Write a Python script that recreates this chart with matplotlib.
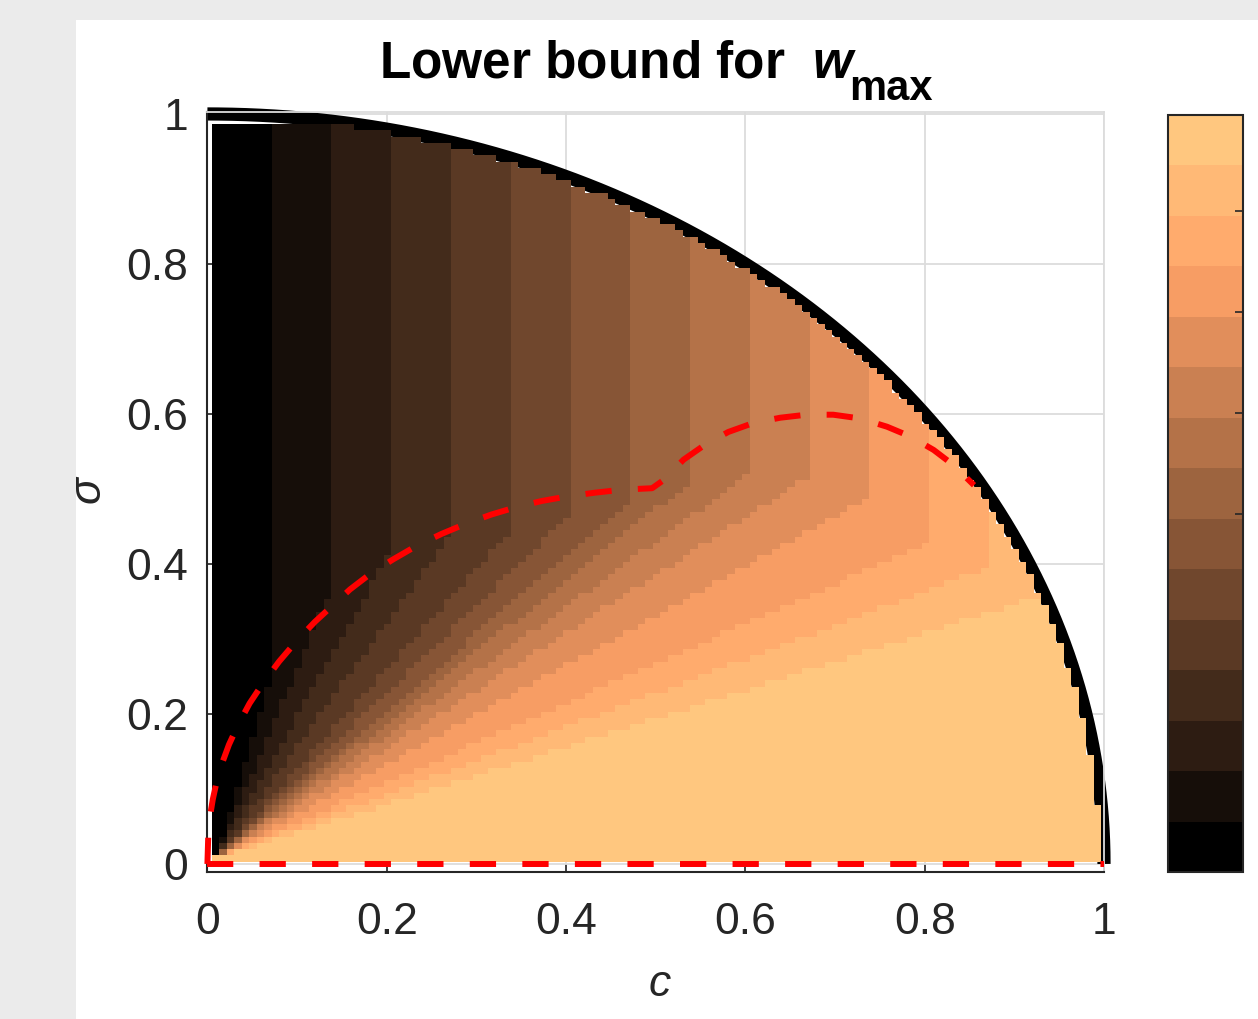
import numpy as np
import matplotlib.pyplot as plt
from matplotlib.patches import Rectangle

plt.rcParams['font.family'] = ['Liberation Sans', 'DejaVu Sans']
plt.rcParams['mathtext.fontset'] = 'custom'
plt.rcParams['mathtext.rm'] = 'Liberation Sans'
plt.rcParams['mathtext.it'] = 'Liberation Sans:italic'
plt.rcParams['mathtext.bf'] = 'Liberation Sans:bold'
plt.rcParams['mathtext.bfit'] = 'Liberation Sans:bold:italic'

# number of colour steps in the map / colorbar
n_levels = 15
# grid resolution of the computed map
n_cells = 120
# sigma/c slope where the lower fan steps from level k to k+1
fan_slopes = [4.0, 2.8, 2.1, 1.65, 1.33, 1.16, 1.03, 0.95, 0.86, 0.77, 0.66, 0.53, 0.45, 0.38]

# red dashed curve
curve_c = [0.0, 0.001, 0.003, 0.006, 0.01, 0.016, 0.024, 0.034, 0.047, 0.062, 0.08,
           0.1, 0.12, 0.14, 0.159, 0.183, 0.207, 0.233, 0.261, 0.289, 0.317, 0.345,
           0.373, 0.401, 0.432, 0.462, 0.496, 0.509, 0.531, 0.555, 0.581, 0.609, 0.639,
           0.668, 0.698, 0.728, 0.758, 0.784, 0.81, 0.832, 0.855]
curve_s = [0.0, 0.039, 0.064, 0.086, 0.108, 0.133, 0.159, 0.185, 0.214, 0.241, 0.27,
           0.298, 0.323, 0.345, 0.366, 0.388, 0.406, 0.424, 0.44, 0.454, 0.466, 0.476,
           0.484, 0.49, 0.495, 0.499, 0.501, 0.512, 0.539, 0.559, 0.576, 0.588, 0.595,
           0.599, 0.599, 0.594, 0.583, 0.57, 0.552, 0.532, 0.505]

ticks = [0, 0.2, 0.4, 0.6, 0.8, 1]
tick_labels = ['0', '0.2', '0.4', '0.6', '0.8', '1']
cbar_ticks = [6.6, 8.6, 10.6, 12.6]

# ---- the map ----
h = 1.0 / n_cells
ck = np.arange(n_cells) * h
C, S = np.meshgrid(ck, ck)
band = np.floor(C * n_levels)
ratio = S / np.maximum(C, 1e-9)
fan = np.sum(ratio[..., None] < np.array(fan_slopes), axis=-1)
level = np.minimum(np.maximum(band, fan), n_levels - 1).astype(float)
# keep cells whose outer corner is inside the unit circle, sigma grid stops below 1
outside = ((C + h + 0.005) ** 2 + (S + h + 0.003) ** 2 > 1.0) | (S + h + 0.003 > 0.989)
level = np.ma.masked_where(outside, level)
xe = np.arange(n_cells + 1) * h + 0.005
ye = np.arange(n_cells + 1) * h + 0.003

fig = plt.figure(figsize=(12.58, 10.19), dpi=100)
fig.patch.set_facecolor('#ebebeb')
fig.add_artist(Rectangle((76 / 1258, 0), 1, 1 - 20 / 1019, transform=fig.transFigure,
                         facecolor='white', edgecolor='none', zorder=-10))

ax = fig.add_axes([207.4 / 1258, 147.3 / 1019, 896.6 / 1258, 760 / 1019])
ax.set_facecolor('white')
cmap = plt.get_cmap('copper', n_levels)

th = np.linspace(0, np.pi / 2, 400)
ax.plot(np.cos(th), np.sin(th), color='black', lw=9.5, solid_capstyle='butt',
        clip_on=False, zorder=1)
mesh = ax.pcolormesh(xe, ye, level, cmap=cmap, vmin=-0.5, vmax=n_levels - 0.5,
                     shading='flat', zorder=2)

ax.plot(curve_c, curve_s, color='red', lw=4.3, ls=(0, (4.4, 4.4)), zorder=4,
        clip_on=False)
ax.plot([0, 1], [0, 0], color='red', lw=4.3, ls=(0, (4.4, 4.4)), zorder=4,
        clip_on=False)

ax.set_xlim(0, 1)
ax.set_ylim(-0.0103, 1.003)
ax.set_xticks(ticks)
ax.set_xticklabels(tick_labels)
ax.set_yticks(ticks)
ax.set_yticklabels(tick_labels)
ax.grid(True, color='#dcdcdc', lw=1.3)
ax.set_axisbelow(True)
ax.tick_params(direction='in', length=6, width=1.2, colors='#262626',
               labelsize=32, top=False, right=False)
ax.tick_params(axis='x', pad=22)
ax.tick_params(axis='y', pad=14)
for side in ['left', 'bottom']:
    ax.spines[side].set_color('#262626')
    ax.spines[side].set_linewidth(1.5)
for side in ['top', 'right']:
    ax.spines[side].set_color('#dcdcdc')
    ax.spines[side].set_linewidth(1.3)

# title: main part plus a separate, lowered subscript
title = fig.text(379 / 1258, 1 - 77 / 1019, r'Lower bound for  $\mathbfit{w}$',
                 ha='left', va='baseline', fontsize=37, fontweight='bold', color='black')
renderer = fig.canvas.get_renderer()
bb = title.get_window_extent(renderer)
fig.text((bb.x1 - 8) / 1258, 1 - 100 / 1019, 'max', ha='left', va='baseline',
         fontsize=30, fontweight='bold', color='black')

fig.text(660 / 1258, 1 - 985 / 1019, 'c', style='italic', fontsize=32,
         ha='center', va='center', color='#262626')
fig.text(88 / 1258, 1 - 490 / 1019, '\u03c3', style='italic', fontsize=32, rotation=90,
         ha='center', va='center', color='#262626')

cax = fig.add_axes([1168 / 1258, 147 / 1019, 75 / 1258, 757 / 1019])
cb = fig.colorbar(mesh, cax=cax, ticks=cbar_ticks)
cb.ax.set_yticklabels([])
cb.ax.tick_params(direction='in', length=6, width=1.2, colors='#262626')
cb.outline.set_edgecolor('#262626')
cb.outline.set_linewidth(1.5)

fig.savefig('out.png', dpi=100, facecolor=fig.get_facecolor())
